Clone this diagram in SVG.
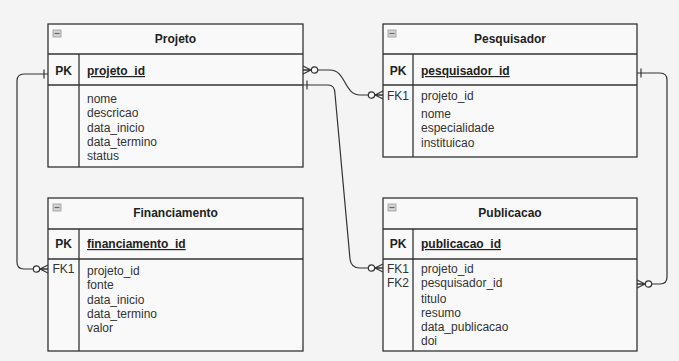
<svg xmlns="http://www.w3.org/2000/svg" width="679" height="361" viewBox="0 0 679 361">
<style>
  text { font-family: "Liberation Sans", Arial, sans-serif; font-size: 12px; fill: #333; }
  .title { font-weight: bold; text-anchor: middle; fill: #222; }
  .pk { font-weight: bold; text-anchor: middle; fill: #222; }
  .key { text-anchor: middle; }
  .pkname { font-weight: bold; text-decoration: underline; fill: #222; }
  .box { fill: #f9f9f9; stroke: #333; stroke-width: 1.3; }
  .ln { stroke: #333; stroke-width: 1.3; fill: none; }
  .icon { fill: #d4d4d4; stroke: #999; stroke-width: 0.8; }
  .iconbar { stroke: #666; stroke-width: 1.2; }
  .conn { fill: none; stroke: #333; stroke-width: 1.2; }
</style>
<defs>
  <marker id="zeroMany" markerUnits="userSpaceOnUse" markerWidth="1" markerHeight="1" refX="0" refY="0" orient="auto-start-reverse" overflow="visible">
    <path d="M-8,0 L0,-4 M-8,0 L0,4 M-8,0 L0,0" fill="none" stroke="#333" stroke-width="1.2"/>
    <circle cx="-11.5" cy="0" r="3.2" fill="#f9f9f9" stroke="#333" stroke-width="1.2"/>
  </marker>
  <marker id="one" markerUnits="userSpaceOnUse" markerWidth="1" markerHeight="1" refX="0" refY="0" orient="auto-start-reverse" overflow="visible">
    <path d="M-4,-4.5 L-4,4.5" fill="none" stroke="#333" stroke-width="1.2"/>
  </marker>
  <g id="collapse">
    <rect x="0" y="0" width="8" height="7" class="icon"/>
    <line x1="1.5" y1="3.5" x2="6.5" y2="3.5" class="iconbar"/>
  </g>
</defs>
<rect x="0" y="0" width="679" height="361" fill="#f4f4f4"/>

<g id="connectors">
  <path class="conn" d="M48,74 L24,74 Q17,74 17,81 L17,262 Q17,269 24,269 L48,269" marker-start="url(#one)" marker-end="url(#zeroMany)"/>
  <path class="conn" d="M303,70 L330,70 C346,70 344,95 360,95 L383,95" marker-start="url(#zeroMany)" marker-end="url(#zeroMany)"/>
  <path class="conn" d="M303,85 L328,85 Q335,85 335,94 L350,259 Q351,268 360,268 L383,268" marker-start="url(#one)" marker-end="url(#zeroMany)"/>
  <path class="conn" d="M637,73 L660,73 Q667,73 667,80 L667,277 Q667,284 660,284 L637,284" marker-start="url(#one)" marker-end="url(#zeroMany)"/>
</g>

<g id="projeto">
  <rect class="box" x="48" y="24" width="255" height="143"/>
  <line class="ln" x1="48" y1="54" x2="303" y2="54"/>
  <line class="ln" x1="48" y1="85" x2="303" y2="85"/>
  <line class="ln" x1="79" y1="54" x2="79" y2="167"/>
  <use href="#collapse" x="53" y="30"/>
  <text class="title" x="175.5" y="43">Projeto</text>
  <text class="pk" x="63.5" y="75">PK</text>
  <text class="pkname" x="87" y="75">projeto_id</text>
  <text x="87" y="103">nome</text>
  <text x="87" y="117.3">descricao</text>
  <text x="87" y="131.6">data_inicio</text>
  <text x="87" y="145.9">data_termino</text>
  <text x="87" y="160.2">status</text>
</g>

<g id="pesquisador">
  <rect class="box" x="383" y="24" width="254" height="133"/>
  <line class="ln" x1="383" y1="54" x2="637" y2="54"/>
  <line class="ln" x1="383" y1="85" x2="637" y2="85"/>
  <line class="ln" x1="413" y1="54" x2="413" y2="157"/>
  <use href="#collapse" x="388" y="30"/>
  <text class="title" x="510" y="43">Pesquisador</text>
  <text class="pk" x="398" y="75">PK</text>
  <text class="pkname" x="421" y="75">pesquisador_id</text>
  <text class="key" x="398" y="100">FK1</text>
  <text x="421" y="100">projeto_id</text>
  <text x="421" y="118">nome</text>
  <text x="421" y="132.3">especialidade</text>
  <text x="421" y="146.6">instituicao</text>
</g>

<g id="financiamento">
  <rect class="box" x="48" y="198" width="255" height="153"/>
  <line class="ln" x1="48" y1="229" x2="303" y2="229"/>
  <line class="ln" x1="48" y1="259" x2="303" y2="259"/>
  <line class="ln" x1="79" y1="229" x2="79" y2="351"/>
  <use href="#collapse" x="53" y="204"/>
  <text class="title" x="175.5" y="217">Financiamento</text>
  <text class="pk" x="63.5" y="248">PK</text>
  <text class="pkname" x="87" y="248">financiamento_id</text>
  <text class="key" x="63.5" y="272.5">FK1</text>
  <text x="87" y="275">projeto_id</text>
  <text x="87" y="289.3">fonte</text>
  <text x="87" y="303.6">data_inicio</text>
  <text x="87" y="317.9">data_termino</text>
  <text x="87" y="332.2">valor</text>
</g>

<g id="publicacao">
  <rect class="box" x="383" y="198" width="254" height="153"/>
  <line class="ln" x1="383" y1="229" x2="637" y2="229"/>
  <line class="ln" x1="383" y1="259" x2="637" y2="259"/>
  <line class="ln" x1="413" y1="229" x2="413" y2="351"/>
  <use href="#collapse" x="388" y="204"/>
  <text class="title" x="510" y="217">Publicacao</text>
  <text class="pk" x="398" y="248">PK</text>
  <text class="pkname" x="421" y="248">publicacao_id</text>
  <text class="key" x="398" y="272.5">FK1</text>
  <text class="key" x="398" y="286.5">FK2</text>
  <text x="421" y="272.5">projeto_id</text>
  <text x="421" y="286.5">pesquisador_id</text>
  <text x="421" y="302.5">titulo</text>
  <text x="421" y="316.5">resumo</text>
  <text x="421" y="330.5">data_publicacao</text>
  <text x="421" y="344.5">doi</text>
</g>
</svg>
